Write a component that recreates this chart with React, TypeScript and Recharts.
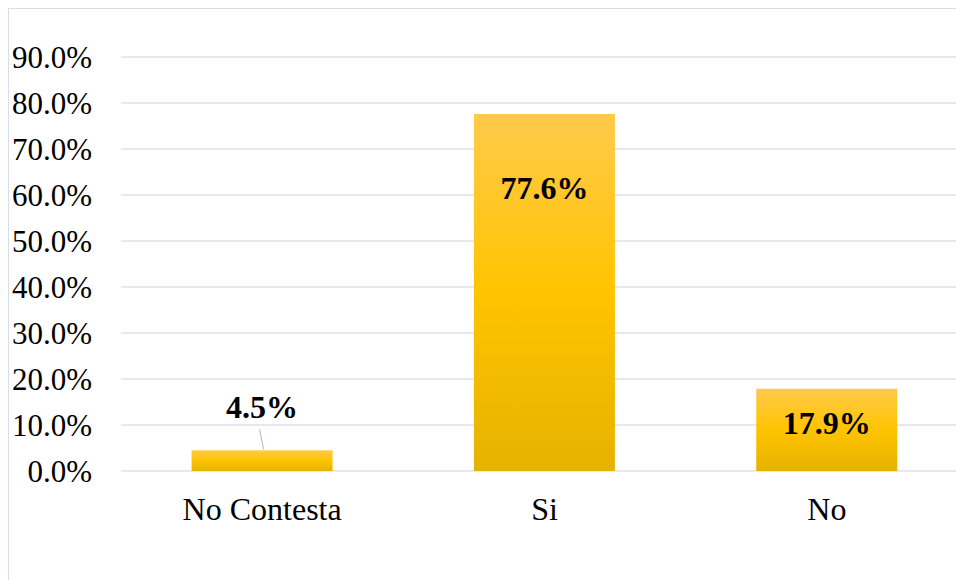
import React from 'react';
import { BarChart, Bar, XAxis, YAxis, CartesianGrid, LabelList } from 'recharts';

const categories = ['No Contesta', 'Si', 'No'];
const percentages = [0.045, 0.776, 0.179];
const yTicks = [0, 0.1, 0.2, 0.3, 0.4, 0.5, 0.6, 0.7, 0.8, 0.9];

const data = categories.map((name, i) => ({ name, value: percentages[i] }));

const FONT = '"Liberation Serif", "Times New Roman", serif';
const LABEL_DY = [-32, 85, 45];

const fmt = (v: number) => (v * 100).toFixed(1) + '%';

const renderLabel = (props: any) => {
  const { x, y, width, value, index } = props;
  const cx = Number(x) + Number(width) / 2;
  const top = Number(y);
  const dy = LABEL_DY[index] ?? 0;
  return (
    <g>
      {index === 0 && (
        <line x1={cx - 2.5} y1={top - 21} x2={cx + 1.5} y2={top - 1} stroke="#aab6c8" strokeWidth={1} />
      )}
      <text
        x={cx}
        y={top + dy}
        textAnchor="middle"
        fontFamily={FONT}
        fontWeight="bold"
        fontSize={32}
        fill="#000"
      >
        {fmt(Number(value))}
      </text>
    </g>
  );
};

export default function App() {
  return (
    <div
      style={{
        position: 'fixed',
        left: 8,
        top: 8,
        width: 948,
        height: 572,
        overflow: 'hidden',
        background: '#fff',
      }}
    >
      <div
        style={{
          borderLeft: '1px solid #d9dde6',
          borderTop: '1px solid #d9dde6',
          width: 990,
          height: 580,
        }}
      >
        <BarChart
          width={975}
          height={571}
          data={data}
          margin={{ top: 48, right: 16, bottom: 0, left: 0 }}
          barCategoryGap="25%"
        >
          <defs>
            <linearGradient id="barGrad" x1="0" y1="0" x2="0" y2="1">
              <stop offset="0%" stopColor="#FFCA4B" />
              <stop offset="50%" stopColor="#FFC400" />
              <stop offset="100%" stopColor="#E6B200" />
            </linearGradient>
          </defs>
          <CartesianGrid vertical={false} stroke="#dfe2e8" strokeWidth={1.5} />
          <XAxis
            dataKey="name"
            axisLine={false}
            tickLine={false}
            tickSize={0}
            tickMargin={26}
            height={109}
            interval={0}
            tick={{ fontFamily: FONT, fontSize: 32, fill: '#000' }}
          />
          <YAxis
            width={112}
            domain={[0, 0.9]}
            ticks={yTicks}
            tickFormatter={fmt}
            axisLine={false}
            tickLine={false}
            tickSize={0}
            tickMargin={29}
            interval={0}
            tick={{ fontFamily: FONT, fontSize: 31, fill: '#000' }}
          />
          <Bar dataKey="value" fill="url(#barGrad)" isAnimationActive={false}>
            <LabelList dataKey="value" content={renderLabel} />
          </Bar>
        </BarChart>
      </div>
    </div>
  );
}
